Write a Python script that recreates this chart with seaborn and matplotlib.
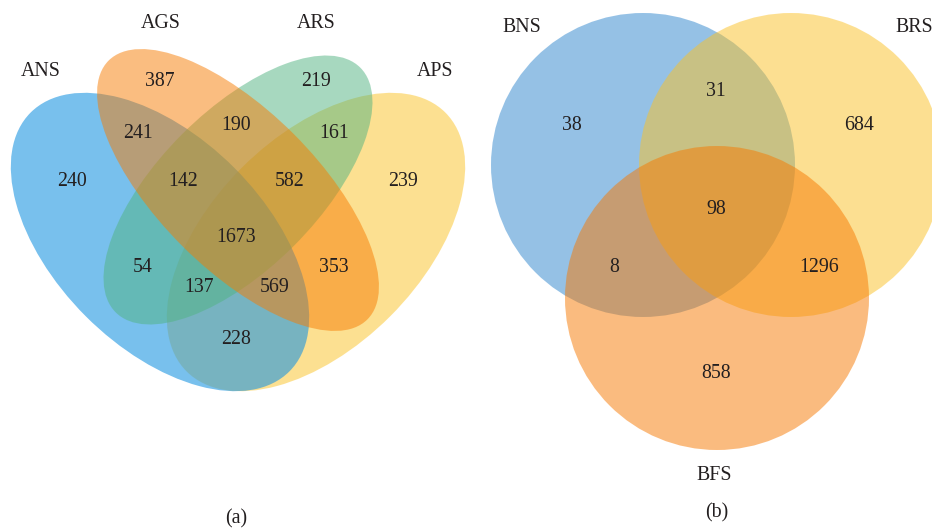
import matplotlib
matplotlib.use("Agg")
import matplotlib.pyplot as plt
from matplotlib.patches import Ellipse, Circle
import seaborn as sns

# ---- data -------------------------------------------------------------
# (a) four-set comparison
sets_a = ["ANS", "AGS", "ARS", "APS"]
regions_a = ["ANS", "AGS", "ARS", "APS",
             "ANS&AGS", "AGS&ARS", "ARS&APS",
             "ANS&AGS&ARS", "AGS&ARS&APS", "ANS&AGS&ARS&APS",
             "ANS&ARS", "AGS&APS", "ANS&ARS&APS", "ANS&AGS&APS",
             "ANS&APS"]
counts_a = [240, 387, 219, 239,
            241, 190, 161,
            142, 582, 1673,
            54, 353, 137, 569,
            228]

# (b) three-set comparison
sets_b = ["BNS", "BRS", "BFS"]
regions_b = ["BNS", "BNS&BRS", "BRS", "BNS&BRS&BFS",
             "BNS&BFS", "BRS&BFS", "BFS"]
counts_b = [38, 31, 684, 98, 8, 1296, 858]

panel_tags = ["(a)", "(b)"]

# ---- style ------------------------------------------------------------
sns.set_theme(style="white")
plt.rcParams["font.family"] = ["Liberation Serif", "DejaVu Serif"]
TXT = "#231f20"
FS = 14.3

fill = {
    "ANS": ((30 / 255, 150 / 255, 225 / 255), 0.6),
    "AGS": ((247 / 255, 124 / 255, 2 / 255), 0.5),
    "ARS": ((81 / 255, 179 / 255, 129 / 255), 0.5),
    "APS": ((251 / 255, 195 / 255, 37 / 255), 0.5),
    "BNS": ((45 / 255, 133 / 255, 205 / 255), 0.5),
    "BRS": ((251 / 255, 193 / 255, 37 / 255), 0.5),
    "BFS": ((247 / 255, 121 / 255, 0 / 255), 0.5),
}

# ellipse layout for (a): centre, full width, full height, angle
shape_a = {
    "APS": ((316, 242), 366, 210, -45),
    "ANS": ((160, 242), 366, 210, 45),
    "ARS": ((238, 190), 346, 158, -45),
    "AGS": ((238, 190), 366, 158, 45),
}
draw_order_a = ["APS", "ANS", "ARS", "AGS"]

# circle layout for (b)
shape_b = {
    "BNS": ((643, 165), 152),
    "BRS": ((791, 165), 152),
    "BFS": ((717, 298), 152),
}
draw_order_b = ["BNS", "BRS", "BFS"]

pos_a = {
    "ANS": (72, 182), "AGS": (160, 82), "ARS": (316, 82), "APS": (403, 182),
    "ANS&AGS": (138, 133), "AGS&ARS": (236, 126), "ARS&APS": (334, 133),
    "ANS&AGS&ARS": (183, 182), "AGS&ARS&APS": (290, 182),
    "ANS&AGS&ARS&APS": (236, 238),
    "ANS&ARS": (143, 267), "AGS&APS": (334, 267),
    "ANS&ARS&APS": (199, 287), "ANS&AGS&APS": (275, 287),
    "ANS&APS": (236, 340),
}
name_pos_a = {"ANS": (41, 72), "AGS": (161, 24), "ARS": (316, 24), "APS": (435, 72)}

pos_b = {
    "BNS": (572, 125), "BNS&BRS": (716, 92), "BRS": (859, 125),
    "BNS&BRS&BFS": (716, 210), "BNS&BFS": (614, 268),
    "BRS&BFS": (819, 268), "BFS": (716, 373),
}
name_pos_b = {"BNS": (522, 27), "BRS": (914, 27), "BFS": (714, 475)}
tag_pos = [(236, 519), (717, 513)]

# ---- drawing ----------------------------------------------------------
fig = plt.figure(figsize=(9.32, 5.32), dpi=100)
ax = fig.add_axes([0, 0, 1, 1])
ax.set_xlim(0, 932)
ax.set_ylim(532, 0)
ax.set_aspect("equal")
ax.axis("off")

for name in draw_order_a:
    (cx, cy), w, h, ang = shape_a[name]
    col, al = fill[name]
    ax.add_patch(Ellipse((cx, cy), w, h, angle=ang, facecolor=col,
                         alpha=al, linewidth=0))

for name in draw_order_b:
    (cx, cy), r = shape_b[name]
    col, al = fill[name]
    ax.add_patch(Circle((cx, cy), r, facecolor=col, alpha=al, linewidth=0))

for reg, val in zip(regions_a, counts_a):
    x, y = pos_a[reg]
    ax.text(x, y, str(val), ha="center", va="center", fontsize=FS, color=TXT)
for s in sets_a:
    x, y = name_pos_a[s]
    ax.text(x, y, s, ha="center", va="center", fontsize=FS, color=TXT)

for reg, val in zip(regions_b, counts_b):
    x, y = pos_b[reg]
    ax.text(x, y, str(val), ha="center", va="center", fontsize=FS, color=TXT)
for s in sets_b:
    x, y = name_pos_b[s]
    ax.text(x, y, s, ha="center", va="center", fontsize=FS, color=TXT)

for tag, (x, y) in zip(panel_tags, tag_pos):
    ax.text(x, y, tag, ha="center", va="center", fontsize=FS, color=TXT)

fig.savefig("out.png", dpi=100, facecolor="white")
